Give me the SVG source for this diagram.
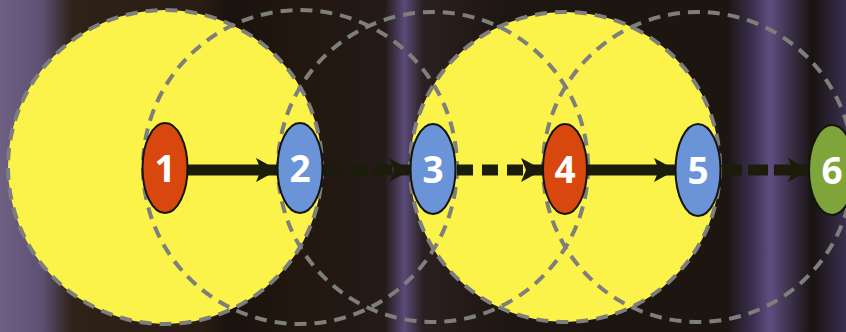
<svg xmlns="http://www.w3.org/2000/svg" width="846" height="332" viewBox="0 0 846 332">
  <defs>
    <linearGradient id="bg" x1="0" y1="0" x2="846" y2="0" gradientUnits="userSpaceOnUse">
      <stop offset="0" stop-color="#6e6082"/>
      <stop offset="0.05" stop-color="#5e5072"/>
      <stop offset="0.085" stop-color="#2e2219"/>
      <stop offset="0.24" stop-color="#2a1c14"/>
      <stop offset="0.27" stop-color="#1a120e"/>
      <stop offset="0.36" stop-color="#22180f"/>
      <stop offset="0.455" stop-color="#241a18"/>
      <stop offset="0.478" stop-color="#5a4a78"/>
      <stop offset="0.5" stop-color="#2a2020"/>
      <stop offset="0.6" stop-color="#1e1610"/>
      <stop offset="0.86" stop-color="#1c1510"/>
      <stop offset="0.89" stop-color="#3a3050"/>
      <stop offset="0.91" stop-color="#5e4e80"/>
      <stop offset="0.935" stop-color="#3a3048"/>
      <stop offset="0.96" stop-color="#181210"/>
      <stop offset="1" stop-color="#3a3050"/>
    </linearGradient>
    <marker id="ah" markerUnits="userSpaceOnUse" markerWidth="24" markerHeight="26" refX="22" refY="12" orient="auto" viewBox="0 0 24 26">
      <path d="M0,0 L22,12 L0,24 L5,12 Z" fill="#1c1c0c"/>
    </marker>
    <style>
      .fill { fill: #fbf24a; stroke: none; }
      .ring { fill: none; stroke: #7e7e7a; stroke-width: 4; stroke-dasharray: 12 8; }
      .conn { stroke: #1c1c0c; stroke-width: 11; fill: none; marker-end: url(#ah); }
      .node ellipse { stroke: #141410; stroke-width: 2; }
      .node text { font-family: "Open Sans", "Liberation Sans", sans-serif; font-weight: 700; font-size: 37px; fill: #ffffff; text-anchor: middle; }
      .red { fill: #d8480e; }
      .blue { fill: #6b93d8; }
      .green { fill: #7fa43a; }
    </style>
  </defs>
  <rect x="0" y="0" width="846" height="332" fill="url(#bg)"/>
  <g id="regions">
    <circle class="fill" cx="165" cy="167" r="157"/>
    <circle class="fill" cx="565" cy="167" r="155"/>
    <circle class="ring" cx="165" cy="167" r="157"/>
    <circle class="ring" cx="300" cy="167" r="157"/>
    <circle class="ring" cx="433" cy="167" r="155"/>
    <circle class="ring" cx="565" cy="167" r="155"/>
    <circle class="ring" cx="698" cy="167" r="155"/>
  </g>
  <g id="connectors">
    <line class="conn" x1="187" y1="170" x2="278" y2="170"/>
    <line class="conn" x1="323" y1="170" x2="411" y2="170" stroke-dasharray="19 6"/>
    <line class="conn" x1="457" y1="170" x2="543" y2="170" stroke-dasharray="16 9"/>
    <line class="conn" x1="587" y1="170" x2="676" y2="170"/>
    <line class="conn" x1="722" y1="170" x2="810" y2="170" stroke-dasharray="20 6"/>
  </g>
  <g id="node1" class="node"><ellipse class="red" cx="165" cy="168" rx="22.5" ry="45"/><text x="165" y="182">1</text></g>
  <g id="node2" class="node"><ellipse class="blue" cx="300" cy="168" rx="22.5" ry="45"/><text x="300" y="182">2</text></g>
  <g id="node3" class="node"><ellipse class="blue" cx="433" cy="169" rx="22.5" ry="45"/><text x="433" y="183">3</text></g>
  <g id="node4" class="node"><ellipse class="red" cx="565" cy="169" rx="22" ry="45"/><text x="565" y="183">4</text></g>
  <g id="node5" class="node"><ellipse class="blue" cx="698" cy="170" rx="22.5" ry="46"/><text x="698" y="184">5</text></g>
  <g id="node6" class="node"><ellipse class="green" cx="832" cy="170" rx="23" ry="45"/><text x="832" y="184">6</text></g>
</svg>
